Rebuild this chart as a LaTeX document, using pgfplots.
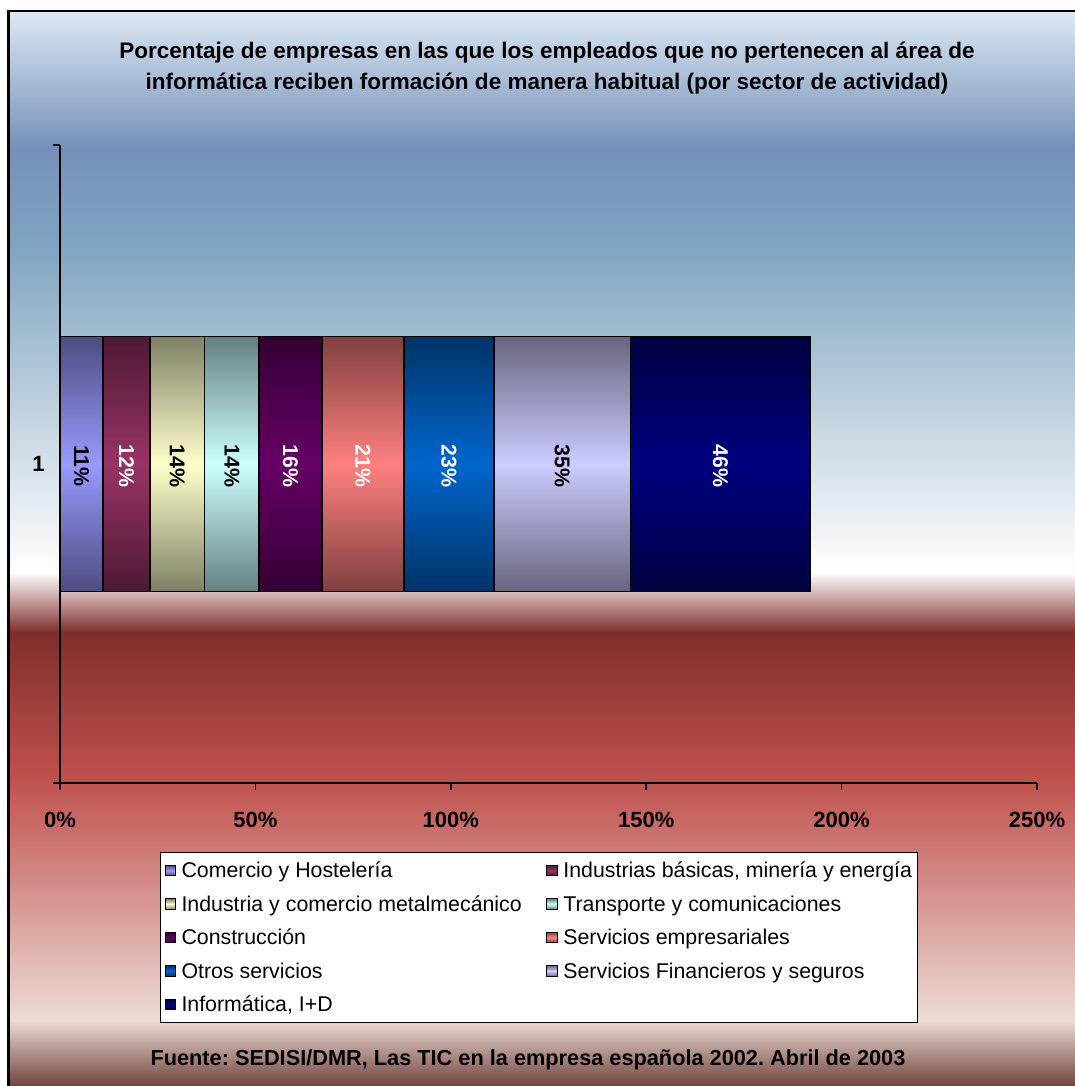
\documentclass[border=0pt]{standalone}
\usepackage{pgfplots}
\pgfplotsset{compat=1.18}
\usepackage{fontspec}
\setmainfont{Liberation Sans}
\frenchspacing

% Palette of the sectors
\definecolor{cComercio}{HTML}{9999FF}
\definecolor{cIndBas}{HTML}{993366}
\definecolor{cMetal}{HTML}{FFFFCC}
\definecolor{cTrans}{HTML}{CCFFFF}
\definecolor{cConst}{HTML}{660066}
\definecolor{cServEmp}{HTML}{FF8080}
\definecolor{cOtros}{HTML}{0066CC}
\definecolor{cFin}{HTML}{CCCCFF}
\definecolor{cInf}{HTML}{000080}

% Background bands
\definecolor{bgA}{HTML}{DDE9F4}
\definecolor{bgB}{HTML}{7590B8}
\definecolor{bgC}{HTML}{80A4C0}
\definecolor{bgD}{HTML}{BCCFDD}
\definecolor{bgE}{HTML}{FFFFFF}
\definecolor{bgF}{HTML}{7F2E2C}
\definecolor{bgG}{HTML}{C0524E}
\definecolor{bgH}{HTML}{D38A86}
\definecolor{bgI}{HTML}{ECDCD5}
\definecolor{bgJ}{HTML}{6A3A35}

\pgfplotsset{
  seg/.style={
    draw=black, line width=1.3pt,
    top color=#1!50!black, bottom color=#1!50!black, middle color=#1,
    legend image code/.code={\draw[fill=#1, draw=black, line width=0.7pt] (0pt,-4pt) rectangle (8pt,4pt);},
  },
  lbl/.style={every node near coord/.append style={text=#1}},
}

\begin{document}
\begin{tikzpicture}[x=0.75pt, y=-0.75pt]
\useasboundingbox (0,0) rectangle (1075,1086);
\fill[white] (0,0) rectangle (1075,1086);
\begin{scope}
\clip (0,0) rectangle (1075,1086);
\shade[top color=bgA, bottom color=bgB] (9,10) rectangle (1080,148.5);
\shade[top color=bgB, bottom color=bgC] (9,148) rectangle (1080,245.5);
\shade[top color=bgC, bottom color=bgD] (9,245) rectangle (1080,400.5);
\shade[top color=bgD, bottom color=bgE] (9,400) rectangle (1080,572.5);
\shade[top color=bgE, bottom color=bgF] (9,572) rectangle (1080,632.5);
\shade[top color=bgF, bottom color=bgG] (9,632) rectangle (1080,780.5);
\shade[top color=bgG, bottom color=bgH] (9,780) rectangle (1080,880.5);
\shade[top color=bgH, bottom color=bgI] (9,880) rectangle (1080,1020.5);
\shade[top color=bgI, bottom color=bgJ] (9,1020) rectangle (1080,1090);
\draw[line width=2.2pt] (8.5,1100) -- (8.5,11) -- (1090,11);
\end{scope}

\node[font=\bfseries\fontsize{16.9}{23.25}\selectfont, align=center] at (547,68)
  {Porcentaje de empresas en las que los empleados que no pertenecen al área de\\informática reciben formación de manera habitual (por sector de actividad)};
\node[font=\bfseries\fontsize{16.3}{19}\selectfont] at (528,1060)
  {Fuente: SEDISI/DMR, Las TIC en la empresa española 2002. Abril de 2003};

\begin{axis}[
  at={(45pt,-587.25pt)}, anchor=south west,
  scale only axis, width=732.75pt, height=478.5pt,
  xbar stacked, bar width=0.4,
  xmin=0, xmax=250, ymin=0.5, ymax=1.5,
  axis x line*=bottom, axis y line*=left,
  axis line style={line width=1.2pt, black},
  tick align=outside, major tick length=5pt,
  tick style={line width=1.2pt, black},
  xtick={0,50,100,150,200,250},
  xticklabel={\pgfmathprintnumber{\tick}\%},
  ytick={0.5,1.5}, yticklabels={},
  extra y ticks={1}, extra y tick labels={1},
  extra y tick style={major tick length=0pt, yticklabel style={xshift=-8pt}},
  ticklabel style={font=\bfseries\fontsize{16.5}{19}\selectfont},
  xticklabel style={yshift=-13.5pt},
  /pgf/number format/assume math mode=true,
  point meta=explicit symbolic,
  nodes near coords={\pgfplotspointmeta\%},
  every node near coord/.append style={anchor=center, yshift=-1.5pt, rotate=-90, font=\bfseries\fontsize{16}{19}\selectfont},
  legend columns=2,
  legend cell align=left,
  legend style={
    at={(0.1024,-0.1082)}, anchor=north west,
    draw=black, line width=0.8pt, fill=white,
    font=\fontsize{16}{19}\selectfont,
    inner xsep=3pt, inner ysep=4.5pt,
    row sep=7.1pt,
    nodes={inner sep=1pt, text height=13.5pt, text depth=2.5pt},
    /tikz/every odd column/.append style={column sep=3pt},
    /tikz/every even column/.append style={column sep=17.5pt},
  },
]
\addplot[seg=cComercio, lbl=black] coordinates {(11,1) [11]};
\addplot[seg=cIndBas, lbl=white] coordinates {(12,1) [12]};
\addplot[seg=cMetal, lbl=black] coordinates {(14,1) [14]};
\addplot[seg=cTrans, lbl=black] coordinates {(14,1) [14]};
\addplot[seg=cConst, lbl=white] coordinates {(16,1) [16]};
\addplot[seg=cServEmp, lbl=white] coordinates {(21,1) [21]};
\addplot[seg=cOtros, lbl=white] coordinates {(23,1) [23]};
\addplot[seg=cFin, lbl=black] coordinates {(35,1) [35]};
\addplot[seg=cInf, lbl=white] coordinates {(46,1) [46]};
\legend{Comercio y Hostelería, {Industrias básicas, minería y energía},
  Industria y comercio metalmecánico, Transporte y comunicaciones,
  Construcción, Servicios empresariales,
  Otros servicios, Servicios Financieros y seguros,
  {Informática, I+D}}
\end{axis}
\end{tikzpicture}
\end{document}
